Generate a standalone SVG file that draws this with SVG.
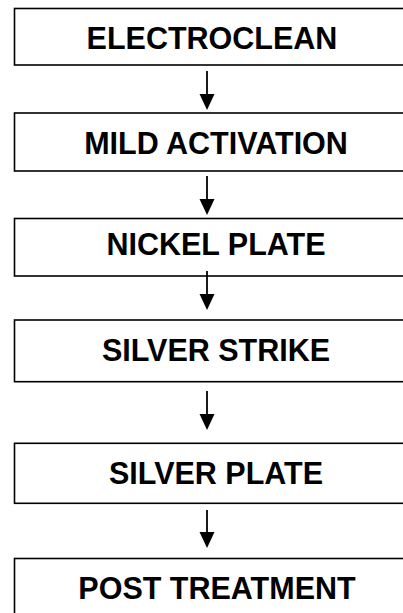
<svg xmlns="http://www.w3.org/2000/svg" width="403" height="613" viewBox="0 0 403 613">
<style>
.box{fill:#fff;stroke:#000;stroke-width:1.6}
.lbl{font-family:"Liberation Sans",Arial,sans-serif;font-weight:bold;font-size:30.5px;fill:#000;text-anchor:middle}
.conn{stroke:#000;stroke-width:1.8;fill:none}
.head{fill:#000}
</style>
<rect width="403" height="613" fill="#fff"/>
<g id="n1"><rect class="box" x="14.5" y="8.5" width="400" height="56.5"/><text class="lbl" x="212" y="49">ELECTROCLEAN</text></g>
<g id="n2"><rect class="box" x="14.5" y="113" width="400" height="58"/><text class="lbl" x="216" y="154">MILD ACTIVATION</text></g>
<g id="n3"><rect class="box" x="14.5" y="218.5" width="400" height="57.5"/><text class="lbl" x="216" y="255">NICKEL PLATE</text></g>
<g id="n4"><rect class="box" x="14.5" y="320" width="400" height="61.7"/><text class="lbl" x="216" y="360.5">SILVER STRIKE</text></g>
<g id="n5"><rect class="box" x="14.5" y="443.3" width="400" height="60"/><text class="lbl" x="216" y="484.3">SILVER PLATE</text></g>
<g id="n6"><rect class="box" x="14.5" y="558.5" width="400" height="70"/><text class="lbl" x="217" y="599.3">POST TREATMENT</text></g>
<g id="connectors">
<line class="conn" x1="207" y1="71" x2="207" y2="96"/><polygon class="head" points="199.5,94 214.5,94 207,110"/>
<line class="conn" x1="207" y1="176" x2="207" y2="201"/><polygon class="head" points="199.5,199 214.5,199 207,215"/>
<line class="conn" x1="207" y1="271" x2="207" y2="296"/><polygon class="head" points="199.5,294 214.5,294 207,310"/>
<line class="conn" x1="207" y1="391" x2="207" y2="416"/><polygon class="head" points="199.5,414 214.5,414 207,430"/>
<line class="conn" x1="207" y1="510" x2="207" y2="534"/><polygon class="head" points="199.5,532 214.5,532 207,548"/>
</g>
</svg>
